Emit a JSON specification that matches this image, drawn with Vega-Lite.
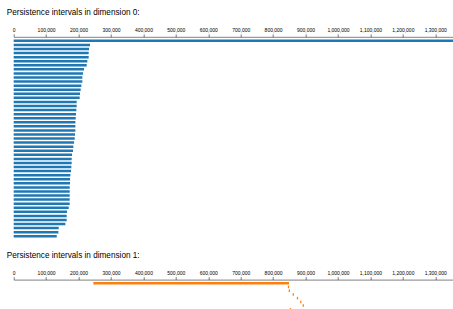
{
  "$schema": "https://vega.github.io/schema/vega-lite/v6.json",
  "padding": {"left": 6.7, "top": 7.8, "right": 0, "bottom": 0},
  "background": "white",
  "config": {
    "view": {"stroke": null},
    "font": "Liberation Sans",
    "title": {"fontSize": 8.2, "fontWeight": "normal", "anchor": "start", "color": "#000", "font": "Liberation Sans"},
    "axis": {
      "labelFontSize": 5, "labelFont": "Liberation Sans", "labelColor": "#000",
      "tickSize": 3, "tickWidth": 0.5, "tickColor": "#000",
      "domainColor": "#000", "domainWidth": 0.5,
      "labelPadding": 1.5, "grid": false, "labelFlush": false, "labelOverlap": false,
      "title": null
    }
  },
  "datasets": {
    "dim0": [
      {"id": 1, "birth": 0, "death": 1359000},
      {"id": 2, "birth": 0, "death": 235300},
      {"id": 3, "birth": 0, "death": 232200},
      {"id": 4, "birth": 0, "death": 231200},
      {"id": 5, "birth": 0, "death": 231200},
      {"id": 6, "birth": 0, "death": 227100},
      {"id": 7, "birth": 0, "death": 225100},
      {"id": 8, "birth": 0, "death": 216800},
      {"id": 9, "birth": 0, "death": 213700},
      {"id": 10, "birth": 0, "death": 211700},
      {"id": 11, "birth": 0, "death": 211700},
      {"id": 12, "birth": 0, "death": 208700},
      {"id": 13, "birth": 0, "death": 206600},
      {"id": 14, "birth": 0, "death": 204500},
      {"id": 15, "birth": 0, "death": 203500},
      {"id": 16, "birth": 0, "death": 194200},
      {"id": 17, "birth": 0, "death": 194200},
      {"id": 18, "birth": 0, "death": 193200},
      {"id": 19, "birth": 0, "death": 192200},
      {"id": 20, "birth": 0, "death": 191200},
      {"id": 21, "birth": 0, "death": 190200},
      {"id": 22, "birth": 0, "death": 190200},
      {"id": 23, "birth": 0, "death": 190200},
      {"id": 24, "birth": 0, "death": 189100},
      {"id": 25, "birth": 0, "death": 188100},
      {"id": 26, "birth": 0, "death": 186100},
      {"id": 27, "birth": 0, "death": 184000},
      {"id": 28, "birth": 0, "death": 183000},
      {"id": 29, "birth": 0, "death": 179900},
      {"id": 30, "birth": 0, "death": 178800},
      {"id": 31, "birth": 0, "death": 178800},
      {"id": 32, "birth": 0, "death": 177800},
      {"id": 33, "birth": 0, "death": 176800},
      {"id": 34, "birth": 0, "death": 174700},
      {"id": 35, "birth": 0, "death": 173700},
      {"id": 36, "birth": 0, "death": 173700},
      {"id": 37, "birth": 0, "death": 172700},
      {"id": 38, "birth": 0, "death": 172700},
      {"id": 39, "birth": 0, "death": 172700},
      {"id": 40, "birth": 0, "death": 172700},
      {"id": 41, "birth": 0, "death": 172700},
      {"id": 42, "birth": 0, "death": 169600},
      {"id": 43, "birth": 0, "death": 164400},
      {"id": 44, "birth": 0, "death": 163400},
      {"id": 45, "birth": 0, "death": 163400},
      {"id": 46, "birth": 0, "death": 159300},
      {"id": 47, "birth": 0, "death": 138800},
      {"id": 48, "birth": 0, "death": 137800},
      {"id": 49, "birth": 0, "death": 132700}
    ],
    "dim1": [
      {"id": 1, "birth": 245700, "death": 849000},
      {"id": 2, "birth": 845500, "death": 849500},
      {"id": 3, "birth": 848000, "death": 852000},
      {"id": 4, "birth": 860200, "death": 864200},
      {"id": 5, "birth": 873100, "death": 877100},
      {"id": 6, "birth": 883300, "death": 887300},
      {"id": 7, "birth": 891000, "death": 895000},
      {"id": 8, "birth": 851600, "death": 855600}
    ]
  },
  "spacing": 9.8,
  "vconcat": [
    {
      "title": {"text": "Persistence intervals in dimension 0:", "dx": -5.6, "offset": 10},
      "width": 440.7,
      "height": 203.5,
      "data": {"name": "dim0"},
      "mark": {"type": "rule", "strokeWidth": 2.5, "color": "#1f77b4"},
      "encoding": {
        "x": {"field": "birth", "type": "quantitative",
              "scale": {"domain": [0, 1359000], "nice": false},
              "axis": {"orient": "top", "format": ",d",
                       "values": [0, 100000, 200000, 300000, 400000, 500000, 600000, 700000, 800000, 900000, 1000000, 1100000, 1200000, 1300000]}},
        "x2": {"field": "death"},
        "y": {"field": "id", "type": "ordinal", "axis": null, "scale": {"padding": 1}}
      }
    },
    {
      "title": {"text": "Persistence intervals in dimension 1:", "dx": -5.6, "offset": 10},
      "width": 440.7,
      "height": 31.3,
      "data": {"name": "dim1"},
      "mark": {"type": "rule", "strokeWidth": 2.5, "color": "#ff7f0e"},
      "encoding": {
        "x": {"field": "birth", "type": "quantitative",
              "scale": {"domain": [0, 1359000], "nice": false},
              "axis": {"orient": "top", "format": ",d",
                       "values": [0, 100000, 200000, 300000, 400000, 500000, 600000, 700000, 800000, 900000, 1000000, 1100000, 1200000, 1300000]}},
        "x2": {"field": "death"},
        "y": {"field": "id", "type": "ordinal", "axis": null, "scale": {"padding": 0.37, "align": 0.87}}
      }
    }
  ]
}
